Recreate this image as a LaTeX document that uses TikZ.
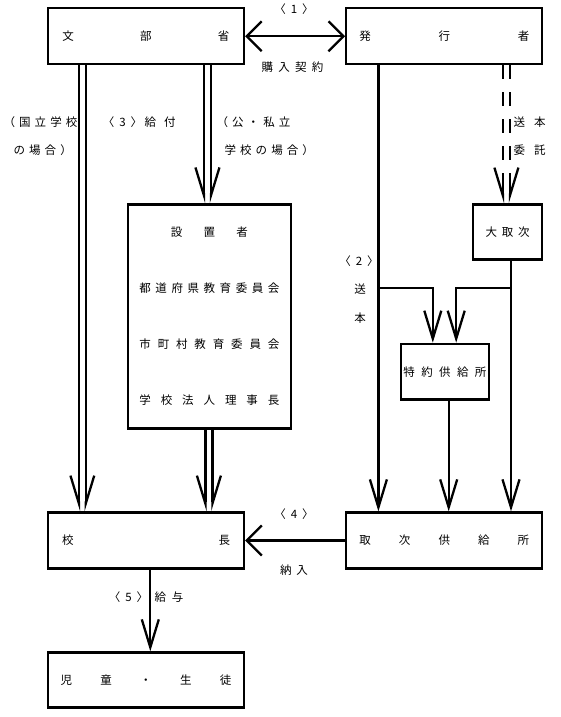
\documentclass[tikz,border=0pt]{standalone}
\usepackage{fontspec}
\newfontfamily\jp{Noto Sans CJK JP}
\newfontfamily\jpl[LetterSpace=35]{Noto Sans CJK JP}
\usetikzlibrary{arrows.meta}
\newcommand\spr[2]{\hbox to #1{#2}}
% angle-bracketed number, ink starting at the box origin
\newcommand\ang[1]{\hbox{\jp\kern-6.4pt\rlap{〈}\kern16.5pt\rlap{#1}\kern11.3pt\rlap{〉}\kern7.6pt}}
\begin{document}
\begin{tikzpicture}[x=1pt,y=-1pt,
  box/.style={draw, line width=2.3pt, inner sep=0pt, minimum width=196pt, minimum height=56pt,
    font=\jp\fontsize{11.5pt}{14pt}\selectfont},
  conn/.style={line width=2.3pt},
  lbl/.style={font=\jp\fontsize{11.5pt}{14pt}\selectfont, inner sep=0pt},
  lbls/.style={font=\jpl\fontsize{11.5pt}{14pt}\selectfont, inner sep=0pt},
  tipn/.style={-{Straight Barb[length=28pt,width=17pt]}},
  tipw/.style={-{Straight Barb[right,length=28pt,width=17pt]}},
  tipe/.style={-{Straight Barb[left,length=28pt,width=17pt]}},
  tipbig/.style={-{Straight Barb[length=15pt,width=30pt]}},
  tipbigboth/.style={{Straight Barb[length=15pt,width=30pt]}-{Straight Barb[length=15pt,width=30pt]}},
  dashpat/.style={dash pattern=on 14pt off 13pt on 14pt off 13pt on 14pt off 13pt on 14pt off 13pt on 40pt off 1pt}
]
\useasboundingbox (0,0) rectangle (561,717);

% boxes
\node[box] (mext) at (145.9,36.3) {\spr{167pt}{文\hfill 部\hfill 省}};
\node[box] (pub) at (444.25,36.3) {\spr{170pt}{発\hfill 行\hfill 者}};
\node[box, minimum width=163.2pt, minimum height=224pt, align=center,
  font=\jp\fontsize{11.5pt}{56pt}\selectfont] (setti) at (209.4,316.35)
  {\spr{77pt}{設\hfill 置\hfill 者}\\
   \spr{140pt}{都\hfill 道\hfill 府\hfill 県\hfill 教\hfill 育\hfill 委\hfill 員\hfill 会}\\
   \spr{140pt}{市\hfill 町\hfill 村\hfill 教\hfill 育\hfill 委\hfill 員\hfill 会}\\
   \spr{140pt}{学\hfill 校\hfill 法\hfill 人\hfill 理\hfill 事\hfill 長}};
\node[box, minimum width=69.4pt, minimum height=55pt] (daitori) at (507.5,232) {\spr{44pt}{大\hfill 取\hfill 次}};
\node[box, minimum width=87.5pt, minimum height=55.7pt] (tokuyaku) at (444.95,371.65) {\spr{83pt}{特\hfill 約\hfill 供\hfill 給\hfill 所}};
\node[box] (kocho) at (146,540.5) {\spr{168pt}{校\hfill 長}};
\node[box] (toritsugi) at (444.25,540.5) {\spr{170pt}{取\hfill 次\hfill 供\hfill 給\hfill 所}};
\node[box, minimum height=55pt] (jido) at (146,680) {\spr{171pt}{児\hfill 童\hfill ・\hfill 生\hfill 徒}};

% connectors
\draw[conn, tipbigboth] (mext.east) -- (pub.west);
\draw[conn, tipw] ([xshift=32.2pt]mext.south west) -- ([xshift=32.2pt]mext.south west |- kocho.north);
\draw[conn, tipe] ([xshift=39pt]mext.south west) -- ([xshift=39pt]mext.south west |- kocho.north);
\draw[conn, tipw] ([xshift=157.2pt]mext.south west) -- ([xshift=157.2pt]mext.south west |- setti.north);
\draw[conn, tipe] ([xshift=164.2pt]mext.south west) -- ([xshift=164.2pt]mext.south west |- setti.north);
\draw[conn, tipw] ([xshift=-4pt]setti.south) -- ([xshift=-4pt]setti.south |- kocho.north);
\draw[conn, tipe] ([xshift=3pt]setti.south) -- ([xshift=3pt]setti.south |- kocho.north);

\draw[conn, dashpat, tipw] ([xshift=157.8pt]pub.south west) -- ([xshift=157.8pt]pub.south west |- daitori.north);
\draw[conn, dashpat, tipe] ([xshift=164.8pt]pub.south west) -- ([xshift=164.8pt]pub.south west |- daitori.north);

\draw[conn, tipn] ([xshift=33.3pt]pub.south west) -- ([xshift=33.3pt]pub.south west |- toritsugi.north);
\draw[conn, tipn] ([xshift=3.5pt]daitori.south) -- ([xshift=3.5pt]daitori.south |- toritsugi.north);
\draw[conn, tipn] ([xshift=3.75pt]tokuyaku.south) -- ([xshift=3.75pt]tokuyaku.south |- toritsugi.north);
\coordinate (j1) at (379.5,288);
\coordinate (j2) at (511,288);
\draw[conn, tipn] (j1) -| ([xshift=-12.15pt]tokuyaku.north);
\draw[conn, tipn] (j2) -| ([xshift=11.25pt]tokuyaku.north);

\draw[conn, tipbig] (toritsugi.west) -- (kocho.east);
\draw[conn, tipn] ([xshift=4.3pt]kocho.south) -- ([xshift=4.3pt]kocho.south |- jido.north);

% labels
\node[lbl, anchor=west] (l1) at (280.5,9.5) {\ang{1}};
\node[lbl] (l1b) at (292.5,66.7) {\spr{62pt}{購\hfill 入\hfill 契\hfill 約}};
\node[lbls, anchor=east] (l3a) at (77.5,121.7) {（国立学校};
\node[lbls, anchor=west] (l3b) at (13.5,150) {の場合）};
\node[lbl, anchor=west] (l3c) at (109,121.7) {\ang{3}\kern6.5pt\spr{31pt}{給\hfill 付}};
\node[lbls, anchor=east] (l3d) at (290.5,121.7) {（公・私立};
\node[lbls, anchor=west] (l3e) at (224.5,150) {学校の場合）};
\node[lbl] (lsa) at (529.5,121.7) {\spr{32pt}{送\hfill 本}};
\node[lbl] (lsb) at (529.5,150) {\spr{32pt}{委\hfill 託}};
\node[lbl, anchor=west] (l2a) at (345.5,261) {\ang{2}};
\node[lbl] (l2b) at (360,289.3) {送};
\node[lbl] (l2c) at (360,317.7) {本};
\node[lbl, anchor=west] (l4a) at (280.5,513.8) {\ang{4}};
\node[lbl] (l4b) at (294,570) {\spr{28pt}{納\hfill 入}};
\node[lbl, anchor=west] (l5a) at (115,596.7) {\ang{5}};
\node[lbl] (l5b) at (169,596.7) {\spr{29pt}{給\hfill 与}};
\end{tikzpicture}
\end{document}
